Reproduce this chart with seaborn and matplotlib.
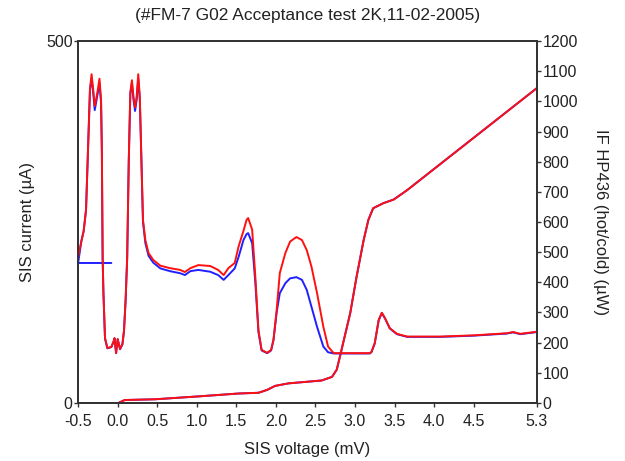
import numpy as np
import pandas as pd
import seaborn as sns
import matplotlib.pyplot as plt

# SIS I-V curve (left axis, uA)
iv_voltage = [0.01, 0.09, 0.47, 1.02, 1.53, 1.78, 1.89, 1.99, 2.16, 2.58, 2.71, 2.77,
              2.81, 2.94, 3.02, 3.11, 3.17, 3.23, 3.36, 3.49, 3.66, 5.30]
iv_current = [0, 4, 5, 9, 13, 14, 18, 23.5, 27, 31, 36, 46,
              64, 124, 174, 225, 253, 269, 276, 281, 294, 435]

# IF power, hot load (right axis, uW)
hot_voltage = [-0.50, -0.46, -0.43, -0.40, -0.38, -0.36, -0.35, -0.33, -0.31, -0.29, -0.27, -0.25,
               -0.23, -0.21, -0.20, -0.19, -0.18, -0.16, -0.13, -0.08, -0.05, -0.04, -0.02, 0.00,
               0.03, 0.06, 0.08, 0.10, 0.12, 0.14, 0.16, 0.18, 0.20, 0.22, 0.24, 0.26, 0.28,
               0.30, 0.32, 0.35, 0.39, 0.45, 0.54, 0.66, 0.79, 0.85, 0.92, 1.02, 1.17, 1.27,
               1.34, 1.40, 1.48, 1.53, 1.59, 1.63, 1.65, 1.70, 1.74, 1.78, 1.82, 1.89, 1.94,
               1.97, 2.01, 2.05, 2.12, 2.18, 2.26, 2.33, 2.39, 2.45, 2.52, 2.60, 2.66, 2.73,
               3.19, 3.21, 3.25, 3.30, 3.34, 3.38, 3.44, 3.53, 3.66, 4.08, 4.50, 4.92, 5.00,
               5.09, 5.30]
hot_power = [484, 535, 570, 640, 800, 960, 1040, 1090, 1040, 985, 1010, 1040,
             1075, 1005, 840, 480, 365, 215, 182, 186, 205, 215, 165, 212,
             179, 195, 240, 340, 480, 800, 1030, 1070, 1015, 980, 1015, 1090, 1015,
             806, 607, 540, 497, 474, 455, 447, 441, 434, 447, 457, 454, 441,
             424, 447, 464, 520, 570, 607, 613, 575, 420, 240, 176, 166, 176,
             209, 308, 431, 497, 535, 550, 540, 507, 452, 365, 253, 187, 165,
             165, 170, 198, 275, 299, 281, 248, 229, 220, 220, 224, 231, 235,
             229, 236]

# IF power, cold load (right axis, uW); sweep starts at -0.08 mV
cold_voltage = [-0.08, -0.50, -0.46, -0.43, -0.40, -0.38, -0.36, -0.35, -0.33, -0.31, -0.29, -0.27,
                -0.25, -0.23, -0.21, -0.20, -0.19, -0.18, -0.16, -0.13, -0.08, -0.05, -0.04,
                -0.02, 0.00, 0.03, 0.06, 0.08, 0.10, 0.12, 0.14, 0.16, 0.18, 0.20, 0.22, 0.24,
                0.26, 0.28, 0.30, 0.32, 0.35, 0.39, 0.45, 0.54, 0.66, 0.79, 0.85, 0.92, 1.02,
                1.17, 1.27, 1.34, 1.40, 1.48, 1.53, 1.59, 1.63, 1.65, 1.70, 1.74, 1.78, 1.82,
                1.89, 1.94, 1.97, 2.01, 2.05, 2.12, 2.18, 2.26, 2.33, 2.39, 2.45, 2.52, 2.60,
                2.66, 2.73, 3.19, 3.21, 3.25, 3.30, 3.34, 3.38, 3.44, 3.53, 3.66, 4.08, 4.50,
                4.92, 5.00, 5.09, 5.30]
cold_power = [464, 464, 535, 570, 640, 800, 960, 1040, 1075, 1030, 971, 1000,
              1030, 1060, 995, 835, 478, 363, 213, 181, 185, 204, 214,
              165, 211, 178, 194, 238, 338, 478, 798, 1025, 1060, 1005, 968, 1005,
              1075, 1005, 806, 600, 530, 488, 465, 446, 437, 430, 424, 437, 441,
              435, 424, 408, 424, 446, 485, 540, 560, 563, 530, 400, 235, 174,
              165, 174, 209, 300, 364, 397, 413, 417, 408, 375, 319, 253, 187,
              168, 164, 164, 169, 197, 274, 298, 280, 247, 228, 219, 219, 223,
              230, 234, 228, 235]

x_ticks = [-0.5, 0.0, 0.5, 1.0, 1.5, 2.0, 2.5, 3.0, 3.5, 4.0, 4.5, 5.3]

sns.set_style("ticks")
plt.rcParams['font.family'] = ['Liberation Sans', 'DejaVu Sans']

iv_df = pd.DataFrame({'v': iv_voltage, 'i': iv_current})
hot_df = pd.DataFrame({'v': hot_voltage, 'p': hot_power})
cold_df = pd.DataFrame({'v': cold_voltage, 'p': cold_power})

fig = plt.figure(figsize=(6.25, 4.61), dpi=100)
ax = fig.add_axes([0.125, 0.126, 0.734, 0.785])
ax2 = ax.twinx()

blue = '#2020ff'
red = '#ff1010'
sns.lineplot(data=iv_df, x='v', y='i', ax=ax, color=blue, lw=1.4, sort=False, estimator=None)
sns.lineplot(data=iv_df, x='v', y='i', ax=ax, color=red, lw=1.4, sort=False, estimator=None)

sns.lineplot(data=cold_df, x='v', y='p', ax=ax2, color=blue, lw=1.4, sort=False, estimator=None)
sns.lineplot(data=hot_df, x='v', y='p', ax=ax2, color=red, lw=1.4, sort=False, estimator=None)

ax.set_xlim(-0.5, 5.3)
ax.set_ylim(0, 500)
ax2.set_ylim(0, 1200)
ax.set_xticks(x_ticks)
ax.set_xticklabels([f"{t:.1f}" for t in x_ticks])
ax.set_yticks([0, 500])
ax2.set_yticks(np.arange(0, 1201, 100))

for a in (ax, ax2):
    for s in a.spines.values():
        s.set_color('#333333')
        s.set_linewidth(1.3)
    a.tick_params(direction='out', length=3, width=1, color='#333333',
                  labelsize=11.5, pad=1, labelcolor='#222222')
ax.tick_params(axis='x', pad=5)

ax.set_xlabel('SIS voltage (mV)', fontsize=12, color='#222222', labelpad=9)
ax.set_ylabel('SIS current (\u00b5A)', fontsize=12, color='#222222', labelpad=8)
ax2.set_ylabel('IF HP436 (hot/cold) (\u00b5W)', fontsize=12, color='#222222',
               rotation=270, labelpad=22)
ax.set_title('(#FM-7 G02 Acceptance test 2K,11-02-2005)', fontsize=12.5,
             color='#222222', pad=15)

fig.savefig('out.png', dpi=100)
